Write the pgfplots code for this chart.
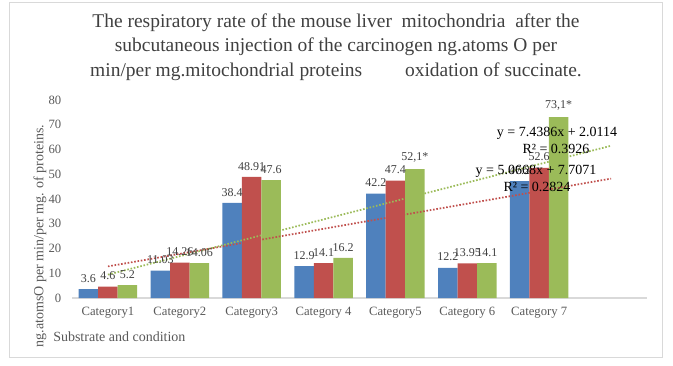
\documentclass[border=0pt]{standalone}
\usepackage{fontspec}
\setmainfont{Liberation Serif}
\usepackage{pgfplots}
\usepackage{pgfplotstable}
\pgfplotsset{compat=1.18}
\definecolor{cblue}{HTML}{4F81BD}
\definecolor{cred}{HTML}{C0504D}
\definecolor{cgreen}{HTML}{9BBB59}
\definecolor{txt}{HTML}{404040}
\definecolor{tick}{HTML}{595959}
\definecolor{frame}{HTML}{D9D9D9}

\pgfplotstableread{
x y lab
0 3.6 3.6
1 11.03 11.03
2 38.4 38.4
3 12.9 12.9
4 42.2 42.2
5 12.2 12.2
6 47.2 47.2
}\sone
\pgfplotstableread{
x y lab
0 4.6 4.6
1 14.26 14.26
2 48.91 48.91
3 14.1 14.1
4 47.4 47.4
5 13.95 13.95
6 52.6 52.6
}\stwo
\pgfplotstableread{
x y lab
0 5.2 5.2
1 14.06 14.06
2 47.6 47.6
3 16.2 16.2
4 52.1 52,1*
5 14.1 14.1
6 73.1 73,1*
}\sthree
% linear trendlines (Excel x = 1..8 -> 0..7)
\pgfplotstableread{
x y
0 12.7739
7 48.2415
}\tred
\pgfplotstableread{
x y
0 9.4500
7 61.5202
}\tgreen

\begin{document}
\begin{tikzpicture}[x=0.75pt,y=0.75pt]
\useasboundingbox (0,0) rectangle (673,365);
\draw[frame, line width=0.75pt] (9,362) rectangle (662,8);
\node[font=\fontsize{14.6}{18.4}\selectfont, text=txt, align=center] at (336,318)
 {The respiratory rate of the mouse liver\ \ mitochondria\ \ after the\\
  subcutaneous injection of the carcinogen ng.atoms O per\\
  min/per mg.mitochondrial proteins\hspace{2.2em}oxidation of succinate.};
\begin{axis}[
  at={(54pt,50.25pt)}, anchor=south west,
  scale only axis, width=431.25pt, height=148.5pt,
  xmin=-0.5, xmax=7.5, ymin=0, ymax=80,
  ytick={0,10,...,80},
  xtick={0,...,6},
  xticklabels={Category1,Category2,Category3,Category 4,Category5,Category 6,Category 7},
  axis x line*=bottom, axis y line*=left,
  x axis line style={frame, line width=1pt, -},
  y axis line style={draw=none},
  major tick length=0pt,
  tick label style={font=\fontsize{9.5}{11}\selectfont, text=tick},
  xticklabel style={yshift=-3pt},
  yticklabel style={xshift=-4.5pt},
  /pgf/number format/assume math mode=true,
  clip=false,
  nodes near coords style={font=\fontsize{9}{10}\selectfont, text=txt, anchor=south, yshift=1.5pt},
]
\addplot[ybar, bar width=14.625pt, bar shift=-14.625pt, fill=cblue, draw=none,
  point meta=explicit symbolic, nodes near coords,
  every node near coord/.append style={xshift=-14.625pt}] table[x=x,y=y,meta=lab] {\sone};
\addplot[ybar, bar width=14.625pt, bar shift=0pt, fill=cred, draw=none,
  point meta=explicit symbolic, nodes near coords] table[x=x,y=y,meta=lab] {\stwo};
\addplot[ybar, bar width=14.625pt, bar shift=14.625pt, fill=cgreen, draw=none,
  point meta=explicit symbolic, nodes near coords,
  every node near coord/.append style={xshift=14.625pt}] table[x=x,y=y,meta=lab] {\sthree};
\addplot[cred, line width=1.3pt, dash pattern=on 1.2pt off 1.3pt, no marks] table[x=x,y=y] {\tred};
\addplot[cgreen, line width=1.3pt, dash pattern=on 1.2pt off 1.3pt, no marks] table[x=x,y=y] {\tgreen};
\end{axis}
\begin{scope}[every node/.style={font=\fontsize{10.5}{12}\selectfont, text=black, inner sep=0pt}]
\node at (557,232) {y = 7.4386x + 2.0114};
\node at (556,216) {R² = 0.3926};
\node at (536,194) {y = 5.0668x + 7.7071};
\node at (537,178) {R² = 0.2824};
\end{scope}
\node[rotate=90, font=\fontsize{10.5}{12}\selectfont, text=tick, inner sep=0pt] at (40,129) {ng.atomsO per min/per mg. of proteins.};
\node[anchor=west, font=\fontsize{10.5}{12}\selectfont, text=tick, inner sep=0pt] at (53,28) {Substrate and condition};
\end{tikzpicture}
\end{document}
